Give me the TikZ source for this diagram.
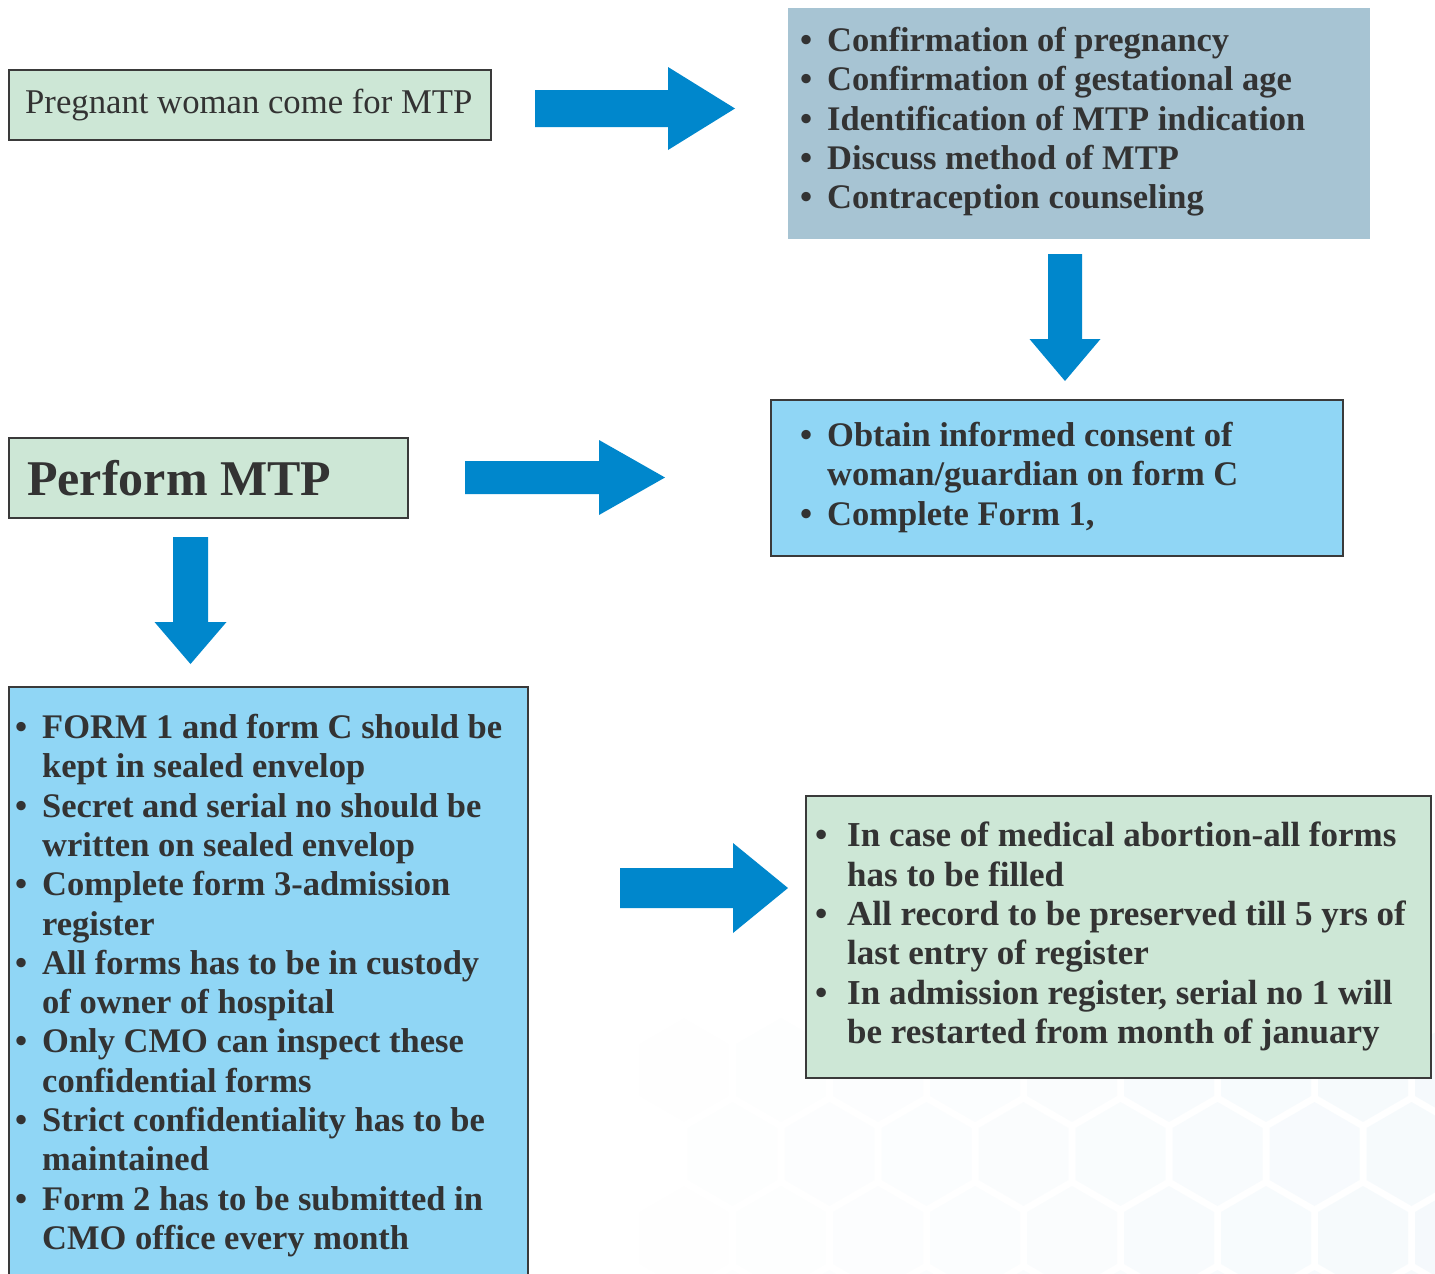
\documentclass[tikz,border=0pt]{standalone}
\usepackage{fontspec}
\setmainfont{Liberation Serif}
\definecolor{boxgreen}{HTML}{CDE7D6}
\definecolor{boxgrey}{HTML}{A7C4D3}
\definecolor{boxblue}{HTML}{90D6F5}
\definecolor{arrowc}{HTML}{0087CC}
\definecolor{txt}{HTML}{333333}
\definecolor{edge}{HTML}{3A3A3A}
\definecolor{hexc}{HTML}{7FB8DD}
\newcommand{\bl}{\makebox[27pt][l]{\textbullet}}
\newcommand{\cl}{\hspace*{27pt}}
\newcommand{\bll}{\makebox[32pt][l]{\textbullet}}
\newcommand{\cll}{\hspace*{32pt}}
\newcommand{\rarr}[6]{\fill[arrowc] (#1,#2-#4) -- (#3,#2-#4) -- (#3,#2-#5) -- (#6,#2) -- (#3,#2+#5) -- (#3,#2+#4) -- (#1,#2+#4) -- cycle;}
\newcommand{\darr}[6]{\fill[arrowc] (#2-#4,#1) -- (#2-#4,#3) -- (#2-#5,#3) -- (#2,#6) -- (#2+#5,#3) -- (#2+#4,#3) -- (#2+#4,#1) -- cycle;}
\tikzset{
  box/.style={draw=edge, line width=2pt, anchor=north west, inner sep=0pt},
  plainbox/.style={anchor=north west, inner sep=0pt},
  listtext/.style={anchor=north west, inner sep=0pt, align=left, text=txt,
    font=\fontsize{34.5}{39.3}\selectfont\bfseries},
}
\begin{document}
\begin{tikzpicture}[x=1pt,y=-1pt]
\useasboundingbox (0,0) rectangle (1435,1274);
\clip (0,0) rectangle (1435,1274);
\fill[white] (0,0) rectangle (1435,1274);

% faint hexagon watermark
\foreach \row/\cy/\off in {1/1070/48.5, 2/1154/0, 3/1238/48.5, 4/1322/0} {
  \foreach \k in {0,...,10} {
    \pgfmathsetmacro\cx{441.5+\off+97*\k}
    \pgfmathsetmacro\op{max(0,min(0.07,(\cx-650)/800*0.07))}
    \fill[hexc, fill opacity=\op]
      (\cx,\cy-52) -- (\cx+45,\cy-26) -- (\cx+45,\cy+26) -- (\cx,\cy+52)
      -- (\cx-45,\cy+26) -- (\cx-45,\cy-26) -- cycle;
  }
}

% box 1
\node[box, fill=boxgreen, minimum width=482pt, minimum height=70pt] (start) at (8,69) {};
\node[anchor=base west, inner sep=0pt, text=txt, font=\fontsize{34.7}{40}\selectfont] (startt) at (25,113) {Pregnant woman come for MTP};

% box 2
\node[plainbox, fill=boxgrey, minimum width=582pt, minimum height=231pt] (check) at (788,8) {};
\node[listtext] (checkt) at (800,27) {\bl Confirmation of pregnancy\\
\bl Confirmation of gestational age\\
\bl Identification of MTP indication\\
\bl Discuss method of MTP\\
\bl Contraception counseling};

% box 3
\node[box, fill=boxblue, minimum width=572pt, minimum height=156pt] (consent) at (770,399) {};
\node[listtext] (consentt) at (800,422) {\bl Obtain informed consent of\\
\cl woman/guardian on form C\\
\bl Complete Form 1,};

% box 4
\node[box, fill=boxgreen, minimum width=399pt, minimum height=80pt] (perform) at (8,437) {};
\node[anchor=base west, inner sep=0pt, text=txt, font=\fontsize{50}{56}\selectfont\bfseries] (performt) at (27,495) {Perform MTP};

% box 5
\node[box, fill=boxblue, minimum width=519pt, minimum height=610pt] (records) at (8,686) {};
\node[listtext] (recordst) at (15,714) {\bl FORM 1 and form C should be\\
\cl kept in sealed envelop\\
\bl Secret and serial no should be\\
\cl written on sealed envelop\\
\bl Complete form 3-admission\\
\cl register\\
\bl All forms has to be in custody\\
\cl of owner of hospital\\
\bl Only CMO can inspect these\\
\cl confidential forms\\
\bl Strict confidentiality has to be\\
\cl maintained\\
\bl Form 2 has to be submitted in\\
\cl CMO office every month};

% box 6
\node[box, fill=boxgreen, minimum width=625pt, minimum height=282pt] (notes) at (805,795) {};
\node[listtext, font=\fontsize{35}{39.3}\selectfont\bfseries] (notest) at (815,822) {\bll In case of medical abortion-all forms\\
\cll has to be filled\\
\bll All record to be preserved till 5 yrs of\\
\cll last entry of register\\
\bll In admission register, serial no 1 will\\
\cll be restarted from month of january};

% arrows
\rarr{535}{108.5}{668}{18.5}{41.5}{735}
\darr{254}{1065}{339}{17}{35.5}{381}
\rarr{465}{477.5}{599}{16.5}{37.5}{665}
\darr{537}{190.5}{622}{17.5}{36}{664}
\rarr{620}{888}{733}{20}{45}{788}
\end{tikzpicture}
\end{document}
